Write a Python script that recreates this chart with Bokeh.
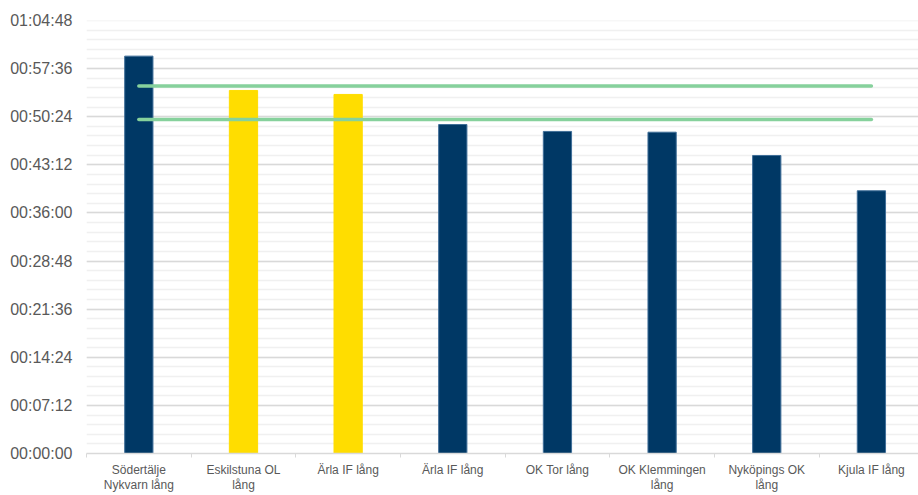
from bokeh.plotting import figure
from bokeh.models import FixedTicker, ColumnDataSource
from bokeh.embed import file_html
from bokeh.resources import INLINE

# ---- data ----
categories = ["Södertälje\nNykvarn lång", "Eskilstuna OL\nlång", "Ärla IF lång", "Ärla IF lång",
              "OK Tor lång", "OK Klemmingen\nlång", "Nyköpings OK\nlång", "Kjula IF lång"]
times_sec = [3568, 3260, 3224, 2954, 2892, 2885, 2676, 2359]
bar_colors = ["#003865", "#FFDD00", "#FFDD00", "#003865", "#003865", "#003865", "#003865", "#003865"]
ref_lines_sec = [3300, 3000]
y_ticks = [0, 432, 864, 1296, 1728, 2160, 2592, 3024, 3456, 3888]
y_tick_labels = ["00:00:00", "00:07:12", "00:14:24", "00:21:36", "00:28:48",
                 "00:36:00", "00:43:12", "00:50:24", "00:57:36", "01:04:48"]

x_pos = list(range(len(categories)))
edge_colors = ["#3f6e98" if c == "#003865" else c for c in bar_colors]

p = figure(width=918, height=495, x_range=(-0.5, len(categories) - 0.55), y_range=(0, 3888),
           output_backend="svg", toolbar_location=None,
           min_border_left=86, min_border_right=0, min_border_top=20, min_border_bottom=42)
p.outline_line_color = None
p.background_fill_color = "white"

src = ColumnDataSource(dict(x=x_pos, top=times_sec, color=bar_colors, edge=edge_colors))
p.vbar(x="x", top="top", width=0.27, bottom=0, source=src,
       fill_color="color", line_color="edge", line_width=1)

for v in ref_lines_sec:
    p.line(x=[x_pos[0], x_pos[-1]], y=[v, v], line_color="#86d19c", line_width=3.5, line_cap="round")

# y axis
minor = [i * 86.4 for i in range(46)]
p.yaxis.ticker = FixedTicker(ticks=y_ticks, minor_ticks=minor)
p.yaxis.major_label_overrides = {t: l for t, l in zip(y_ticks, y_tick_labels)}
p.yaxis.axis_line_color = None
p.yaxis.major_tick_line_color = None
p.yaxis.minor_tick_line_color = None
p.yaxis.major_tick_out = 0
p.yaxis.major_tick_in = 0
p.yaxis.minor_tick_out = 0
p.yaxis.minor_tick_in = 0
p.yaxis.major_label_standoff = 14
p.yaxis.major_label_text_font = "Liberation Sans"
p.yaxis.major_label_text_font_size = "16px"
p.yaxis.major_label_text_color = "#595959"

p.ygrid.grid_line_color = "#d9d9d9"
p.ygrid.grid_line_width = 1.5
p.ygrid.minor_grid_line_color = "#f0f0f0"
p.ygrid.minor_grid_line_width = 1.5
p.xgrid.grid_line_color = None

# x axis
p.xaxis.ticker = FixedTicker(ticks=x_pos, minor_ticks=[i - 0.5 for i in range(len(categories) + 1)])
p.xaxis.major_label_overrides = {i: c for i, c in enumerate(categories)}
p.xaxis.axis_line_color = "#d9d9d9"
p.xaxis.axis_line_width = 1.5
p.xaxis.major_tick_line_color = None
p.xaxis.major_tick_out = 0
p.xaxis.major_tick_in = 0
p.xaxis.minor_tick_line_color = "#d9d9d9"
p.xaxis.minor_tick_out = 4
p.xaxis.minor_tick_in = 0
p.xaxis.major_label_standoff = 5
p.xaxis.major_label_text_font = "Liberation Sans"
p.xaxis.major_label_text_font_size = "12px"
p.xaxis.major_label_text_color = "#595959"
p.xaxis.major_label_text_line_height = 1.1

open("out.html", "w").write(file_html(p, INLINE))
